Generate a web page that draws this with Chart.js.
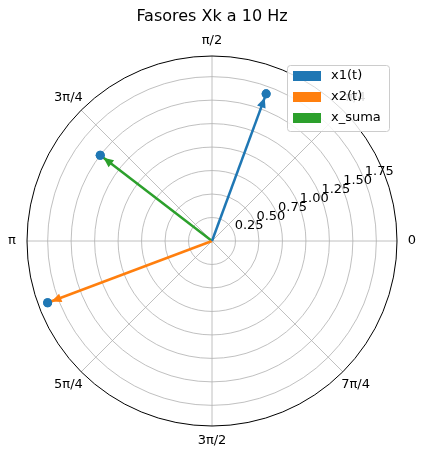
<!DOCTYPE html><html><head><script src="https://cdn.jsdelivr.net/npm/chart.js@4"></script>
<style>body{margin:0;background:#fff}#w{width:433px;height:459px}</style></head><body><div id="w"><canvas id="c"></canvas></div>
<script>
const seriesNames=["x1(t)","x2(t)","x_suma"];
const magnitudes=[1.67,1.87,1.50];
const anglesDeg=[69.8,200.6,142.5];
const colors=["#1f77b4","#ff7f0e","#2ca02c"];
const radialTicks=[0.25,0.5,0.75,1.0,1.25,1.5,1.75];
const radialTickLabels=["0.25","0.50","0.75","1.00","1.25","1.50","1.75"];
const angleLabels=["0","π/4","π/2","3π/4","π","5π/4","3π/2","7π/4"];
const R=1.97;
const pts=magnitudes.map((m,i)=>({x:m*Math.cos(anglesDeg[i]*Math.PI/180),y:m*Math.sin(anglesDeg[i]*Math.PI/180)}));
const datasets=pts.map((p,i)=>({label:seriesNames[i],data:[{x:0,y:0},p],showLine:true,borderColor:colors[i],backgroundColor:colors[i],borderWidth:2.5,pointRadius:0}));
datasets.push({label:"dots",data:pts,showLine:false,pointRadius:4.5,backgroundColor:"#1f77b4",borderWidth:0});
const polar={id:"polar",
beforeDatasetsDraw(ch){const c=ch.ctx,xs=ch.scales.x,ys=ch.scales.y;const cx=xs.getPixelForValue(0),cy=ys.getPixelForValue(0);const pr=xs.getPixelForValue(R)-cx;c.save();c.strokeStyle="#b0b0b0";c.lineWidth=0.8;
radialTicks.forEach(t=>{c.beginPath();c.arc(cx,cy,xs.getPixelForValue(t)-cx,0,2*Math.PI);c.stroke();});
for(let k=0;k<8;k++){const a=k*Math.PI/4;c.beginPath();c.moveTo(cx,cy);c.lineTo(cx+pr*Math.cos(a),cy-pr*Math.sin(a));c.stroke();}
c.strokeStyle="#000";c.lineWidth=1;c.beginPath();c.arc(cx,cy,pr,0,2*Math.PI);c.stroke();
c.fillStyle="#000";c.font="13px 'DejaVu Sans'";c.textAlign="center";c.textBaseline="middle";
angleLabels.forEach((l,k)=>{const a=k*Math.PI/4;const rr=pr+(k%2?18:15);c.fillText(l,cx+rr*Math.cos(a),cy-rr*Math.sin(a));});
c.textAlign="left";const a=22.5*Math.PI/180;
radialTicks.forEach((t,i)=>{const rp=xs.getPixelForValue(t)-cx;c.fillText(radialTickLabels[i],cx+rp*Math.cos(a)+1,cy-rp*Math.sin(a)-6);});
c.restore();},
afterDatasetsDraw(ch){const c=ch.ctx,xs=ch.scales.x,ys=ch.scales.y;const cx=xs.getPixelForValue(0),cy=ys.getPixelForValue(0);c.save();
pts.forEach((p,i)=>{const px=xs.getPixelForValue(p.x),py=ys.getPixelForValue(p.y);const ang=Math.atan2(py-cy,px-cx);const L=10,W=4.5;const tx=px-4*Math.cos(ang),ty=py-4*Math.sin(ang);c.fillStyle=colors[i];c.beginPath();c.moveTo(tx,ty);c.lineTo(tx-L*Math.cos(ang)+W*Math.sin(ang),ty-L*Math.sin(ang)-W*Math.cos(ang));c.lineTo(tx-L*Math.cos(ang)-W*Math.sin(ang),ty-L*Math.sin(ang)+W*Math.cos(ang));c.closePath();c.fill();});
// redraw dots on top
pts.forEach(p=>{c.fillStyle="#1f77b4";c.beginPath();c.arc(xs.getPixelForValue(p.x),ys.getPixelForValue(p.y),4.5,0,2*Math.PI);c.fill();});
c.fillStyle="#000";c.font="16px 'DejaVu Sans'";c.textAlign="center";c.textBaseline="middle";c.fillText("Fasores Xk a 10 Hz",212,17);
c.fillStyle="rgba(255,255,255,0.85)";c.strokeStyle="#cccccc";c.lineWidth=1;c.beginPath();c.roundRect(287.5,65.5,102,66,3);c.fill();c.stroke();
c.font="13px 'DejaVu Sans'";c.textAlign="left";
seriesNames.forEach((n,i)=>{const y=76+i*21;c.fillStyle=colors[i];c.fillRect(293,y-5,28,10);c.fillStyle="#000";c.fillText(n,331,y);});
c.restore();}};
new Chart(document.getElementById("c"),{type:"scatter",data:{datasets},plugins:[polar],
options:{responsive:true,maintainAspectRatio:false,animation:false,layout:{padding:{left:27,right:36,top:56,bottom:33}},
plugins:{legend:{display:false},tooltip:{enabled:false}},
scales:{x:{display:false,min:-R,max:R},y:{display:false,min:-R,max:R}}}});
</script></body></html>
